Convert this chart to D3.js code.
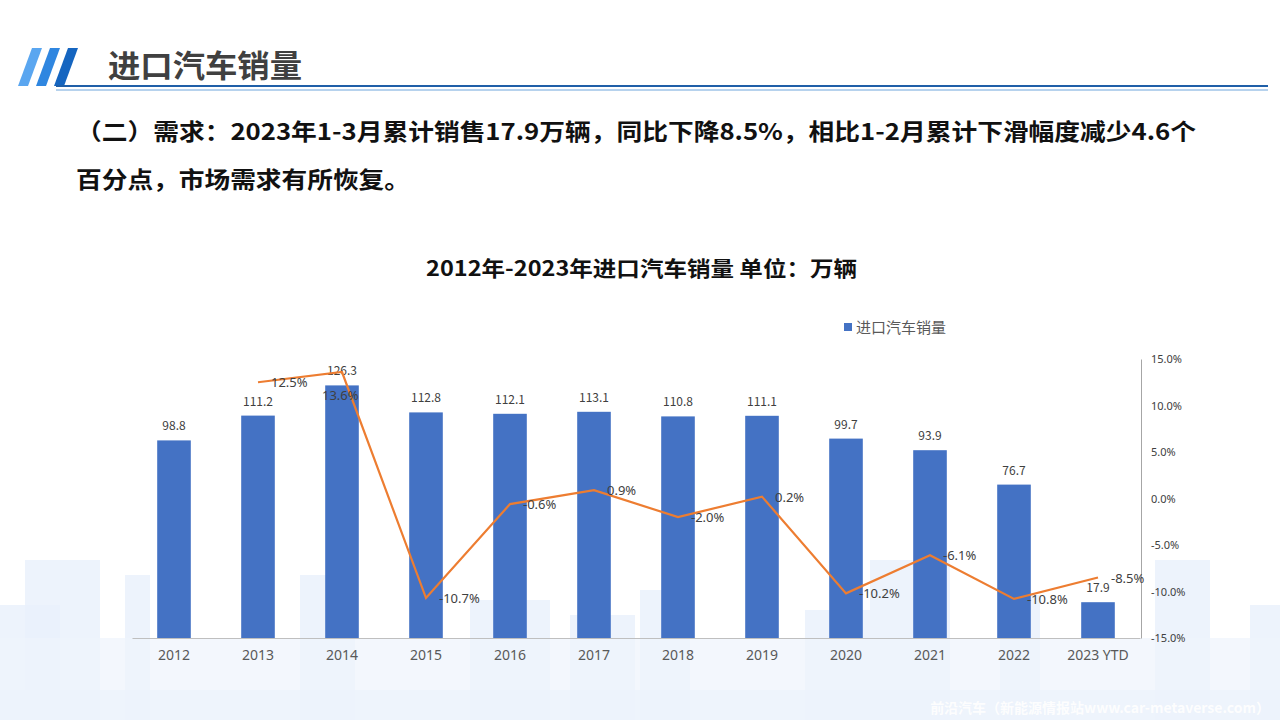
<!DOCTYPE html>
<html><head><meta charset="utf-8">
<script src="https://cdn.jsdelivr.net/npm/d3@7"></script>
<style>
body{margin:0;background:#fff;font-family:"Noto Sans CJK SC","Noto Sans",sans-serif}
</style></head>
<body><svg id="c" width="1280" height="720"></svg>
<script>
const years = ["2012","2013","2014","2015","2016","2017","2018","2019","2020","2021","2022","2023 YTD"];
const sales = [98.8,111.2,126.3,112.8,112.1,113.1,110.8,111.1,99.7,93.9,76.7,17.9];
const growth = [null,12.5,13.6,-10.7,-0.6,0.9,-2.0,0.2,-10.2,-6.1,-10.8,-8.5];
const rightTicks = [15,10,5,0,-5,-10,-15];

const svg = d3.select("#c");

// background skyline decoration
const sky = [[0,605,60,115],[25,560,75,160],[125,575,25,145],[300,575,55,145],[470,600,80,120],[570,615,65,105],[640,590,50,130],[805,610,65,110],[870,560,80,160],[1000,595,40,125],[1155,560,55,160],[1250,605,30,115],[0,690,1280,30]];
svg.selectAll(".sky").data(sky).enter().append("rect")
  .attr("x", d => d[0]).attr("y", d => d[1]).attr("width", d => d[2]).attr("height", d => d[3])
  .attr("fill", "#e8f0fb").attr("opacity", 0.8);
svg.append("rect").attr("x",0).attr("y",638).attr("width",1280).attr("height",82).attr("fill","#eef4fc").attr("opacity",0.7);

// header
[[22,40],[40,40],[58,40]].forEach((p,i) => {
  svg.append("path").attr("d", `M${p[0]+10},${p[1]+8} L${p[0]+20},${p[1]+8} L${p[0]+6},${p[1]+46} L${p[0]-4},${p[1]+46}Z`)
    .attr("fill", i==2 ? "#1565c0" : (i==1 ? "#2f86e0" : "#5aa6f0"));
});
svg.append("text").attr("x",108).attr("y",77).text("进口汽车销量")
  .attr("font-size",31).attr("font-weight","bold").attr("fill","#404040")
  .attr("textLength",194).attr("lengthAdjust","spacingAndGlyphs");
svg.append("line").attr("x1",56).attr("x2",1268).attr("y1",86).attr("y2",86).attr("stroke","#1f5fa8").attr("stroke-width",2);
svg.append("line").attr("x1",56).attr("x2",1268).attr("y1",90).attr("y2",90).attr("stroke","#6fa5dc").attr("stroke-width",1);

svg.append("text").attr("x",76).attr("y",140).attr("font-size",23).attr("font-weight","bold").attr("fill","#111")
  .attr("textLength",1120).attr("lengthAdjust","spacingAndGlyphs")
  .text("（二）需求：2023年1-3月累计销售17.9万辆，同比下降8.5%，相比1-2月累计下滑幅度减少4.6个");
svg.append("text").attr("x",76).attr("y",188).attr("font-size",23).attr("font-weight","bold").attr("fill","#111")
  .attr("textLength",334).attr("lengthAdjust","spacingAndGlyphs")
  .text("百分点，市场需求有所恢复。");

svg.append("text").attr("x",426).attr("y",276).attr("font-size",21).attr("font-weight","bold").attr("fill","#111")
  .attr("textLength",431).attr("lengthAdjust","spacingAndGlyphs")
  .text("2012年-2023年进口汽车销量  单位：万辆");

// legend
svg.append("rect").attr("x",844).attr("y",323).attr("width",8).attr("height",8).attr("fill","#4472c4");
svg.append("text").attr("x",856).attr("y",333).attr("font-size",15).attr("fill","#595959").text("进口汽车销量");

// scales
const x = d3.scaleBand().domain(years).range([132,1140]).paddingInner(0.6).paddingOuter(0.3);
const y = d3.scaleLinear().domain([0,140]).range([638,358]);
const yr = d3.scaleLinear().domain([-15,15]).range([638,359]);

svg.selectAll(".bar").data(years).enter().append("rect")
  .attr("x", d => x(d)).attr("width", x.bandwidth())
  .attr("y", (d,i) => y(sales[i])).attr("height", (d,i) => 638 - y(sales[i]))
  .attr("fill", "#4472c4");
svg.selectAll(".bl").data(years).enter().append("text")
  .attr("x", d => x(d) + x.bandwidth()/2).attr("y", (d,i) => y(sales[i]) - 10)
  .attr("text-anchor","middle").attr("font-size",12).attr("fill","#404040")
  .text((d,i) => sales[i].toFixed(1));

const xa = svg.append("g").attr("transform","translate(0,638)").call(d3.axisBottom(x).tickSize(0).tickPadding(12));
xa.select(".domain").attr("stroke","#bfbfbf");
xa.selectAll("text").attr("font-size",14).attr("fill","#595959").attr("font-family","Noto Sans, sans-serif");

const ya = svg.append("g").attr("transform","translate(1141,0)")
  .call(d3.axisRight(yr).tickValues(rightTicks).tickSize(0).tickPadding(10).tickFormat(d => d.toFixed(1) + "%"));
ya.select(".domain").attr("stroke","#a6a6a6");
ya.selectAll("text").attr("font-size",11).attr("fill","#404040").attr("font-family","Noto Sans, sans-serif");

const pts = years.map((d,i) => ({d, v: growth[i]})).filter(p => p.v !== null);
const line = d3.line().x(p => x(p.d) + x.bandwidth()/2).y(p => yr(p.v));
svg.append("path").datum(pts).attr("d", line).attr("fill","none").attr("stroke","#ed7d31").attr("stroke-width",2.2);
svg.selectAll(".gl").data(pts).enter().append("text")
  .attr("x", p => x(p.d) + x.bandwidth()/2 + (p.d === "2014" ? -20 : 13))
  .attr("y", p => yr(p.v) + (p.d === "2014" ? 28 : 5))
  .attr("font-size",13).attr("fill","#404040").attr("font-family","Noto Sans, sans-serif")
  .text(p => p.v.toFixed(1) + "%");

svg.append("text").attr("x",1270).attr("y",713).attr("text-anchor","end").attr("font-size",14).attr("font-weight","bold")
  .attr("fill","#ffffff").attr("opacity",0.9).text("前沿汽车（新能源情报站www.car-metaverse.com）");
</script></body></html>
